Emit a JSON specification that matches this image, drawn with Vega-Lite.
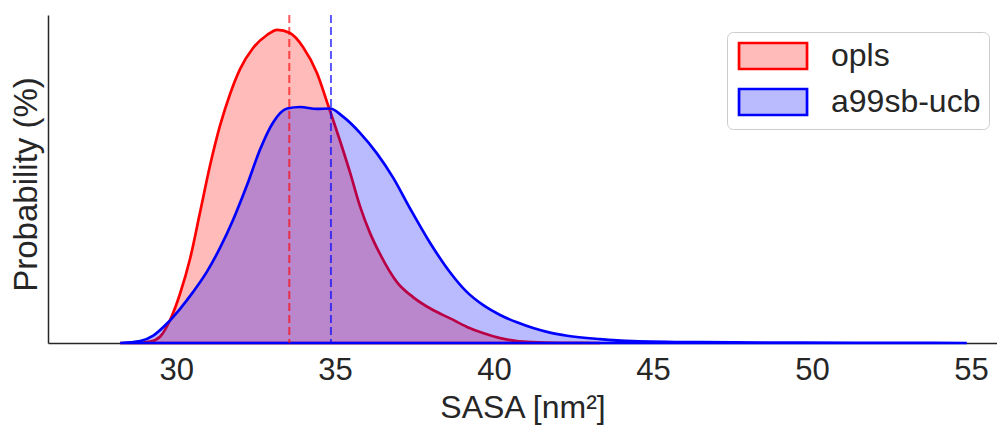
{
  "$schema": "https://vega.github.io/schema/vega-lite/v6.json",
  "width": 949,
  "height": 328,
  "autosize": {"type": "none"},
  "padding": {"left": 48, "top": 15, "right": 0, "bottom": 85},
  "background": "white",
  "config": {
    "view": {"stroke": null},
    "font": "Liberation Sans",
    "axis": {"grid": false, "domainColor": "#262626", "domainWidth": 1.5, "labelColor": "#262626", "titleColor": "#262626", "titleFontWeight": "normal", "ticks": false}
  },
  "datasets": {
    "kde": [
      {"series": "opls", "sasa": 28.24, "p": 0},
      {"series": "opls", "sasa": 28.71, "p": 0.01},
      {"series": "opls", "sasa": 29.18, "p": 0.09},
      {"series": "opls", "sasa": 29.5, "p": 0.4},
      {"series": "opls", "sasa": 29.81, "p": 1.4},
      {"series": "opls", "sasa": 30.13, "p": 3.05},
      {"series": "opls", "sasa": 30.44, "p": 5.15},
      {"series": "opls", "sasa": 30.75, "p": 7.95},
      {"series": "opls", "sasa": 31.07, "p": 10.85},
      {"series": "opls", "sasa": 31.38, "p": 13.25},
      {"series": "opls", "sasa": 31.7, "p": 15.2},
      {"series": "opls", "sasa": 32.01, "p": 16.7},
      {"series": "opls", "sasa": 32.42, "p": 17.99},
      {"series": "opls", "sasa": 32.86, "p": 18.78},
      {"series": "opls", "sasa": 33.18, "p": 19.09},
      {"series": "opls", "sasa": 33.58, "p": 18.9},
      {"series": "opls", "sasa": 33.99, "p": 18.05},
      {"series": "opls", "sasa": 34.43, "p": 16.46},
      {"series": "opls", "sasa": 34.78, "p": 14.5},
      {"series": "opls", "sasa": 35.16, "p": 12.3},
      {"series": "opls", "sasa": 35.47, "p": 10.4},
      {"series": "opls", "sasa": 35.79, "p": 8.3},
      {"series": "opls", "sasa": 36.1, "p": 6.7},
      {"series": "opls", "sasa": 36.42, "p": 5.4},
      {"series": "opls", "sasa": 36.95, "p": 3.7},
      {"series": "opls", "sasa": 37.45, "p": 2.8},
      {"series": "opls", "sasa": 38.08, "p": 2.01},
      {"series": "opls", "sasa": 38.62, "p": 1.5},
      {"series": "opls", "sasa": 39.15, "p": 0.98},
      {"series": "opls", "sasa": 39.65, "p": 0.61},
      {"series": "opls", "sasa": 40.19, "p": 0.3},
      {"series": "opls", "sasa": 40.72, "p": 0.12},
      {"series": "opls", "sasa": 41.23, "p": 0.05},
      {"series": "opls", "sasa": 42.08, "p": 0.01},
      {"series": "opls", "sasa": 43.33, "p": 0},
      {"series": "a99sb-ucb", "sasa": 28.24, "p": 0},
      {"series": "a99sb-ucb", "sasa": 28.87, "p": 0.12},
      {"series": "a99sb-ucb", "sasa": 29.28, "p": 0.45},
      {"series": "a99sb-ucb", "sasa": 29.72, "p": 1.2},
      {"series": "a99sb-ucb", "sasa": 30.13, "p": 2.1},
      {"series": "a99sb-ucb", "sasa": 30.53, "p": 3.1},
      {"series": "a99sb-ucb", "sasa": 30.97, "p": 4.35},
      {"series": "a99sb-ucb", "sasa": 31.38, "p": 5.8},
      {"series": "a99sb-ucb", "sasa": 31.79, "p": 7.5},
      {"series": "a99sb-ucb", "sasa": 32.23, "p": 9.63},
      {"series": "a99sb-ucb", "sasa": 32.64, "p": 11.8},
      {"series": "a99sb-ucb", "sasa": 33.05, "p": 13.45},
      {"series": "a99sb-ucb", "sasa": 33.49, "p": 14.3},
      {"series": "a99sb-ucb", "sasa": 33.9, "p": 14.39},
      {"series": "a99sb-ucb", "sasa": 34.43, "p": 14.27},
      {"series": "a99sb-ucb", "sasa": 34.84, "p": 14.3},
      {"series": "a99sb-ucb", "sasa": 35.25, "p": 13.8},
      {"series": "a99sb-ucb", "sasa": 35.79, "p": 12.8},
      {"series": "a99sb-ucb", "sasa": 36.32, "p": 11.55},
      {"series": "a99sb-ucb", "sasa": 36.82, "p": 10.1},
      {"series": "a99sb-ucb", "sasa": 37.36, "p": 8.2},
      {"series": "a99sb-ucb", "sasa": 37.99, "p": 6.1},
      {"series": "a99sb-ucb", "sasa": 38.62, "p": 4.3},
      {"series": "a99sb-ucb", "sasa": 39.15, "p": 3.1},
      {"series": "a99sb-ucb", "sasa": 39.65, "p": 2.32},
      {"series": "a99sb-ucb", "sasa": 40.19, "p": 1.71},
      {"series": "a99sb-ucb", "sasa": 40.72, "p": 1.26},
      {"series": "a99sb-ucb", "sasa": 41.23, "p": 0.91},
      {"series": "a99sb-ucb", "sasa": 41.76, "p": 0.63},
      {"series": "a99sb-ucb", "sasa": 42.3, "p": 0.44},
      {"series": "a99sb-ucb", "sasa": 43.33, "p": 0.24},
      {"series": "a99sb-ucb", "sasa": 44.37, "p": 0.12},
      {"series": "a99sb-ucb", "sasa": 46.48, "p": 0.05},
      {"series": "a99sb-ucb", "sasa": 49.62, "p": 0.02},
      {"series": "a99sb-ucb", "sasa": 52.77, "p": 0.01},
      {"series": "a99sb-ucb", "sasa": 54.87, "p": 0}
    ],
    "means": [
      {"series": "opls", "sasa": 33.56},
      {"series": "a99sb-ucb", "sasa": 34.87}
    ]
  },
  "layer": [
    {
      "data": {"name": "kde"},
      "transform": [{"filter": "datum.series === 'opls'"}],
      "mark": {"type": "area", "interpolate": "monotone", "fillOpacity": 0.27, "strokeWidth": 2.7},
      "encoding": {
        "x": {"field": "sasa", "type": "quantitative", "scale": {"domain": [25.97, 55.82], "nice": false, "zero": false},
          "axis": {"values": [30, 35, 40, 45, 50, 55], "labelFontSize": 31, "labelPadding": 12, "title": "SASA [nm²]", "titleFontSize": 32, "titleBaseline": "alphabetic", "titleY": 74}},
        "y": {"field": "p", "type": "quantitative", "scale": {"domain": [0, 20], "nice": false},
          "axis": {"labels": false, "title": "Probability (%)", "titleFontSize": 33, "titleBaseline": "alphabetic", "titleAngle": -90, "titleX": -12, "titleY": 169, "titleAlign": "center"}},
        "fill": {"field": "series", "type": "nominal", "scale": {"domain": ["opls", "a99sb-ucb"], "range": ["red", "blue"]},
          "legend": {"title": null, "orient": "none", "legendX": 679, "legendY": 17, "padding": 8, "symbolType": "M-0.92,-1H4.31V1H-0.92Z", "symbolSize": 676, "symbolStrokeWidth": 2.7, "labelFontSize": 32, "labelColor": "#262626", "labelOffset": 64, "rowPadding": 8, "strokeColor": "#cccccc", "fillColor": "white", "cornerRadius": 6,
            "encode": {"symbols": {"update": {"fillOpacity": {"value": 0.27}, "strokeOpacity": {"value": 1}, "opacity": {"value": 1}}}}}},
        "stroke": {"field": "series", "type": "nominal", "scale": {"domain": ["opls", "a99sb-ucb"], "range": ["red", "blue"]},
          "legend": {"title": null, "orient": "none", "legendX": 679, "legendY": 17, "padding": 8, "symbolType": "M-0.92,-1H4.31V1H-0.92Z", "symbolSize": 676, "symbolStrokeWidth": 2.7, "labelFontSize": 32, "labelColor": "#262626", "labelOffset": 64, "rowPadding": 8, "strokeColor": "#cccccc", "fillColor": "white", "cornerRadius": 6,
            "encode": {"symbols": {"update": {"fillOpacity": {"value": 0.27}, "strokeOpacity": {"value": 1}, "opacity": {"value": 1}}}}}}
      }
    },
    {
      "data": {"name": "kde"},
      "transform": [{"filter": "datum.series === 'a99sb-ucb'"}],
      "mark": {"type": "area", "interpolate": "monotone", "fillOpacity": 0.27, "strokeWidth": 2.7},
      "encoding": {
        "x": {"field": "sasa", "type": "quantitative"},
        "y": {"field": "p", "type": "quantitative"},
        "fill": {"field": "series", "type": "nominal"},
        "stroke": {"field": "series", "type": "nominal"}
      }
    },
    {
      "data": {"name": "means"},
      "transform": [{"filter": "datum.series === 'opls'"}],
      "mark": {"type": "rule", "color": "red", "strokeDash": [8, 4], "strokeWidth": 2, "opacity": 0.65},
      "encoding": {"x": {"field": "sasa", "type": "quantitative"}}
    },
    {
      "data": {"name": "means"},
      "transform": [{"filter": "datum.series === 'a99sb-ucb'"}],
      "mark": {"type": "rule", "color": "blue", "strokeDash": [8, 4], "strokeWidth": 2, "opacity": 0.65},
      "encoding": {"x": {"field": "sasa", "type": "quantitative"}}
    }
  ]
}
